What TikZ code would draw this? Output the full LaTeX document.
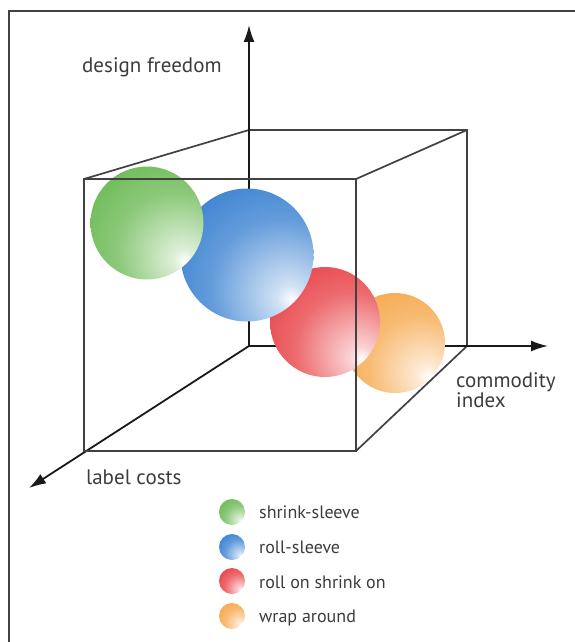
\documentclass[tikz,border=0pt]{standalone}
\usepackage{fontspec}
\setmainfont{PT Sans}
\usetikzlibrary{arrows.meta}
\usetikzlibrary{calc}

\definecolor{LineGray}{RGB}{65,65,65}
\definecolor{AxisBlack}{RGB}{25,25,25}
\definecolor{TextGray}{RGB}{60,60,60}
\definecolor{SphGreen}{RGB}{95,180,70}
\definecolor{SphBlue}{RGB}{40,118,205}
\definecolor{SphRed}{RGB}{230,50,55}
\definecolor{SphOrange}{RGB}{245,160,60}
\colorlet{sphcol}{SphGreen}

% highlight sits low on the right
\pgfdeclareradialshading[sphcol]{sphere}{\pgfpoint{17bp}{-17bp}}{%
  color(0bp)=(white); color(5bp)=(sphcol!22!white);
  color(26bp)=(sphcol!72!white); color(50bp)=(sphcol); color(100bp)=(sphcol)}

\begin{document}
\begin{tikzpicture}[x=1pt,y=-1pt,
  edge/.style={LineGray, line width=1.7pt},
  axis/.style={AxisBlack, line width=1.8pt, -{Latex[length=17pt,width=11pt]}},
  lbl/.style={TextGray, inner sep=0pt, anchor=base west, font=\fontsize{21}{19}\selectfont},
  leglbl/.style={TextGray, inner sep=0pt, anchor=base west, font=\fontsize{18}{18}\selectfont},
  tint/.code={\colorlet{sphcol}{#1}},
  bubble/.style={circle, inner sep=0pt, minimum size=#1, shade, shading=sphere}]
\useasboundingbox (0,0) rectangle (575,642);

\draw[LineGray, line width=2pt] (575,11) -- (9,11) -- (9,642);

% cube corners
\coordinate (O) at (249,346);
\coordinate (BTL) at (249,130);
\coordinate (BTR) at (467,130);
\coordinate (BBR) at (467,346);
\coordinate (FTL) at (84,179);
\coordinate (FTR) at (356,179);
\coordinate (FBR) at (356,451);
\coordinate (FBL) at (84,451);
\coordinate (Ytip) at (249,25);
\coordinate (Xtip) at (548,346);
\coordinate (Ztip) at (29,488);

% back edges and axes
\draw[edge] (FTL) -- (BTL) -- (BTR) -- (BBR);
\draw[edge] (FTR) -- (BTR);
\draw[edge] (FBR) -- (BBR);
\draw[axis] (O) -- (Ytip);
\draw[axis] (O) -- (Xtip);
\draw[axis] (O) -- (Ztip);

% spheres, back to front
\node[tint=SphOrange, bubble=100pt] (wrap) at (395,343) {};
\node[tint=SphRed, bubble=110pt] (rollshrink) at (325,322) {};
\node[tint=SphBlue, bubble=133pt] (roll) at (247,255) {};
\node[tint=SphGreen, bubble=113pt] (shrink) at (147,223) {};

% front face
\draw[edge] (FTL) -- (FTR) -- (FBR) -- (FBL) -- cycle;

\node[lbl] (freedom) at (82,72) {design freedom};
\node[lbl, align=left, anchor=north west] (commodity) at (456,372) {commodity\\index};
\node[lbl] (costs) at (86,484) {label costs};

% legend
\node[tint=SphGreen, bubble=26pt] (lg1) at (232,512) {};
\node[leglbl] (lt1) at (259,518) {shrink-sleeve};
\node[tint=SphBlue, bubble=26pt] (lg2) at (232,547) {};
\node[leglbl] (lt2) at (259,553) {roll-sleeve};
\node[tint=SphRed, bubble=26pt] (lg3) at (232,581) {};
\node[leglbl] (lt3) at (259,588) {roll on shrink on};
\node[tint=SphOrange, bubble=26pt] (lg4) at (232,616) {};
\node[leglbl] (lt4) at (259,622) {wrap around};
\end{tikzpicture}
\end{document}
